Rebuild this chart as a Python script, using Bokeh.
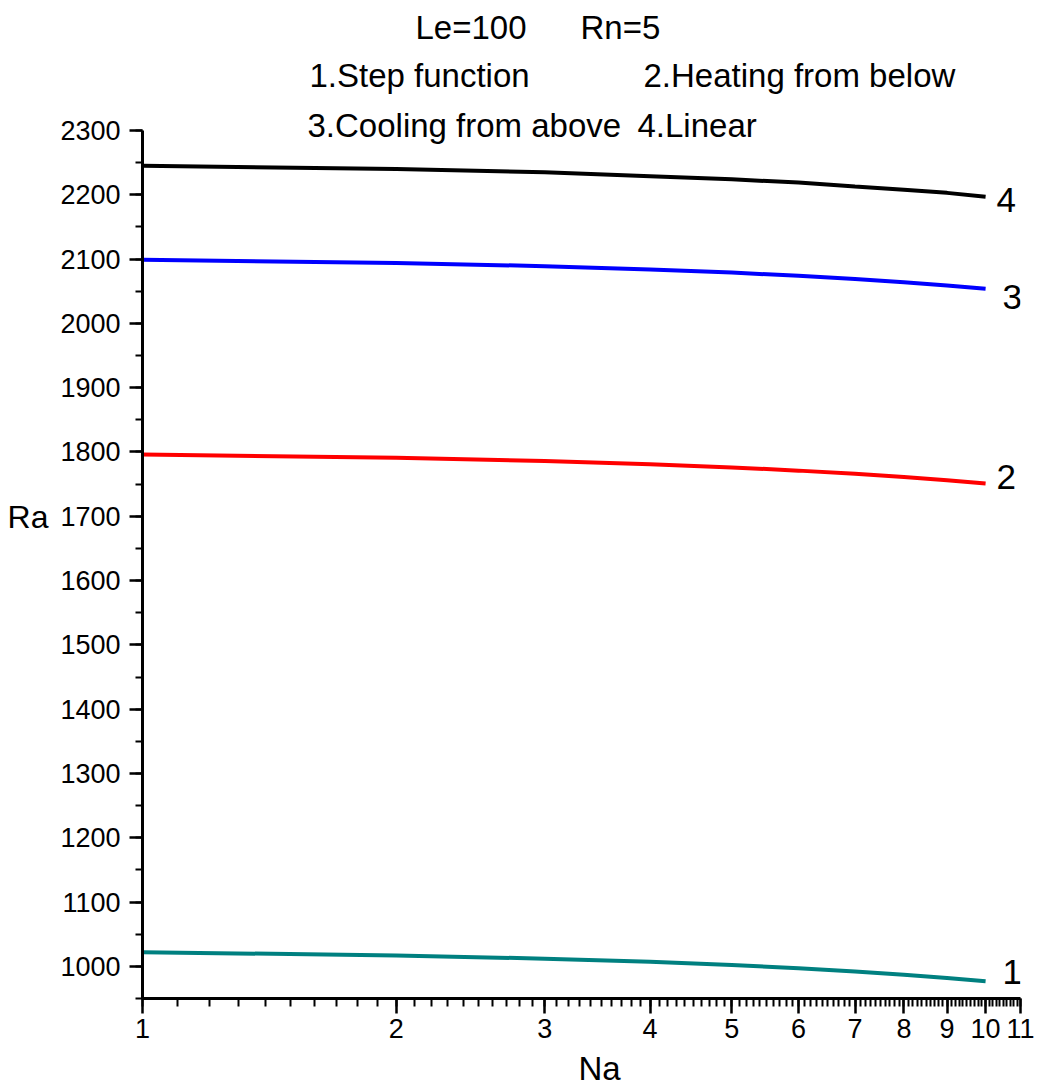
import math
from bokeh.plotting import figure
from bokeh.models import (FixedTicker, Label, Range1d, NumeralTickFormatter,
                          LinearAxis, LogAxis, CustomJSTickFormatter)
from bokeh.embed import file_html
from bokeh.resources import INLINE

# ---- data ----
na = [1, 2, 3, 4, 5, 6, 7, 8, 9, 10]
ra_step = [1022, 1017, 1012, 1007, 1002, 997, 992, 987, 982, 977]          # 1. Step function
ra_heating = [1796, 1791, 1786, 1781, 1776, 1771, 1766, 1761, 1756, 1751]  # 2. Heating from below
ra_cooling = [2099, 2094, 2089, 2084, 2079, 2074, 2069, 2064, 2059, 2054]  # 3. Cooling from above
ra_linear = [2245, 2240, 2235, 2229, 2224, 2219, 2213, 2208, 2203, 2197]   # 4. Linear
curve_labels = ["1", "2", "3", "4"]
x_ticks = [1, 2, 3, 4, 5, 6, 7, 8, 9, 10, 11]
y_ticks = list(range(1000, 2301, 100))
header_texts = ["Le=100", "Rn=5",
                "1.Step function", "2.Heating from below",
                "3.Cooling from above", "4.Linear"]
x_title = "Na"
y_title = "Ra"

FONT = "Liberation Sans"

XMIN, XMAX = 1, 11
YMIN, YMAX = 950, 2300
L, R, T, B = 142, 1020, 130, 998
W, H = 1041, 1091
# frame extends to the top of the canvas so header text can sit inside it
YTOP = YMAX + T * (YMAX - YMIN) / (B - T)

p = figure(width=W, height=H, x_axis_type="log",
           x_range=Range1d(XMIN, XMAX), y_range=Range1d(YMIN, YTOP),
           output_backend="svg", toolbar_location=None,
           min_border_left=L, min_border_right=W - R,
           min_border_top=0, min_border_bottom=H - B)
p.outline_line_color = None
p.xgrid.visible = False
p.ygrid.visible = False
p.background_fill_color = "white"
p.border_fill_color = "white"


def px2x(px):
    return 10 ** ((px - L) / (R - L) * (math.log10(XMAX) - math.log10(XMIN)) + math.log10(XMIN))


def py2y(py):
    return YMAX - (py - T) / (B - T) * (YMAX - YMIN)


# axes
xminor = [round(1 + 0.1 * i, 1) for i in range(0, 101)]
p.xaxis.ticker = FixedTicker(ticks=x_ticks, minor_ticks=xminor)
p.xaxis.formatter = NumeralTickFormatter(format="0")
p.yaxis.ticker = FixedTicker(ticks=y_ticks, minor_ticks=list(range(950, 2301, 50)))
p.yaxis.bounds = (YMIN, YMAX)

for ax in (p.xaxis, p.yaxis):
    ax.axis_line_width = 3
    ax.axis_line_color = "black"
    ax.major_tick_line_width = 2.5
    ax.minor_tick_line_width = 2
    ax.major_tick_line_color = "black"
    ax.minor_tick_line_color = "black"
    ax.major_tick_in = 0
    ax.minor_tick_in = 0
    ax.major_label_text_font = FONT
    ax.major_label_text_color = "black"

p.xaxis.major_tick_out = 15
p.xaxis.minor_tick_out = 8
p.xaxis.major_label_standoff = 5
p.xaxis.major_label_text_font_size = "27px"
p.yaxis.major_tick_out = 13
p.yaxis.minor_tick_out = 7
p.yaxis.major_label_standoff = 9
p.yaxis.major_label_text_font_size = "27px"

# axis titles as label-only outer axes
ra_axis = LinearAxis(ticker=FixedTicker(ticks=[py2y(516)]),
                     formatter=CustomJSTickFormatter(code="return '%s'" % y_title),
                     axis_line_color=None, major_tick_line_color=None, minor_tick_line_color=None,
                     major_tick_out=0, major_label_standoff=9,
                     major_label_text_font=FONT, major_label_text_font_size="32px",
                     major_label_text_color="black")
p.add_layout(ra_axis, "left")
na_axis = LogAxis(ticker=FixedTicker(ticks=[px2x(599)]),
                  formatter=CustomJSTickFormatter(code="return '%s'" % x_title),
                  axis_line_color=None, major_tick_line_color=None, minor_tick_line_color=None,
                  major_tick_out=0, major_label_standoff=9,
                  major_label_text_font=FONT, major_label_text_font_size="33px",
                  major_label_text_color="black")
p.add_layout(na_axis, "below")

# curves
series = [(ra_step, "#008080"), (ra_heating, "#ff0000"), (ra_cooling, "#0000ff"), (ra_linear, "#000000")]
for vals, col in series:
    p.line(na, vals, line_color=col, line_width=4)

# curve end labels
offs = [(17, -9), (11, -6), (17, 8), (11, 3)]
for (vals, col), lab, (dx, dy) in zip(series, curve_labels, offs):
    p.add_layout(Label(x=na[-1], y=vals[-1], text=lab, x_offset=dx, y_offset=-dy,
                       text_font=FONT, text_font_size="35px", text_baseline="middle",
                       text_align="left", text_color="black"))

# header texts (left edge and vertical centre in screen pixels)
header_pos = [(415, 27), (580, 27), (309, 75), (643, 75), (307, 125), (637, 125)]
for txt, (px, py) in zip(header_texts, header_pos):
    p.add_layout(Label(x=px2x(px), y=py2y(py), text=txt, text_font=FONT,
                       text_font_size="33px", text_baseline="middle", text_align="left",
                       text_color="black"))

open("out.html", "w").write(file_html(p, INLINE))
